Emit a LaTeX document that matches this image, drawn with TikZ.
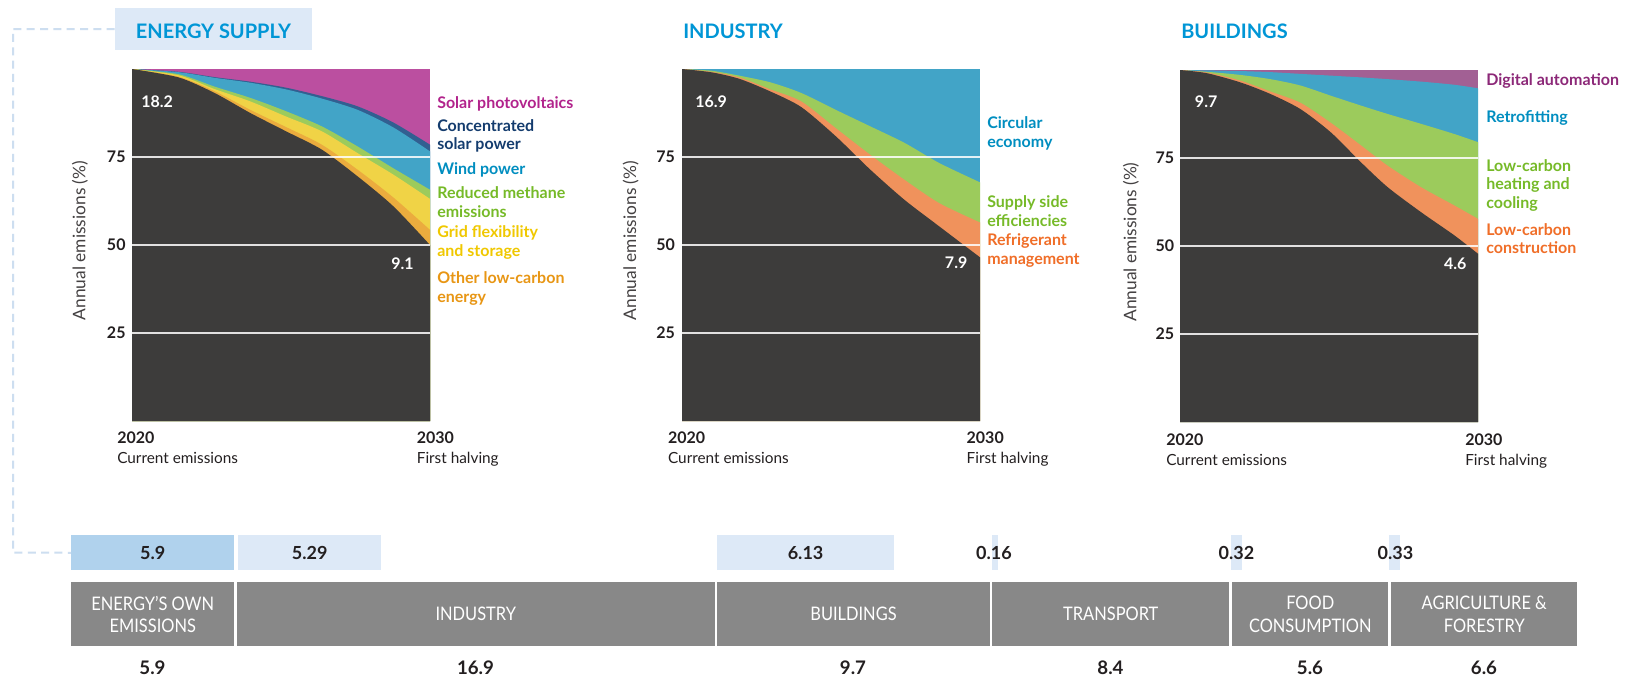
\documentclass[tikz,border=0pt]{standalone}
\usepackage{fontspec}
\setmainfont{Lato}
\newfontfamily\condf[FakeStretch=0.88]{Lato}
\usetikzlibrary{calc}
\definecolor{titleblue}{RGB}{0,150,214}
\definecolor{boxblue}{RGB}{221,233,247}
\definecolor{midblue}{RGB}{176,210,237}
\definecolor{darkfill}{RGB}{61,60,59}
\definecolor{barcol}{RGB}{136,136,136}
\definecolor{solarc}{RGB}{187,79,160}
\definecolor{solart}{RGB}{178,35,140}
\definecolor{cspc}{RGB}{50,95,145}
\definecolor{cspt}{RGB}{20,60,110}
\definecolor{windc}{RGB}{66,164,199}
\definecolor{windt}{RGB}{0,142,192}
\definecolor{greenc}{RGB}{156,203,92}
\definecolor{greent}{RGB}{118,186,40}
\definecolor{yellowc}{RGB}{240,211,70}
\definecolor{yellowt}{RGB}{240,200,0}
\definecolor{orangec}{RGB}{235,172,62}
\definecolor{oranget}{RGB}{232,150,20}
\definecolor{salmonc}{RGB}{240,146,92}
\definecolor{salmont}{RGB}{240,110,40}
\definecolor{purplec}{RGB}{162,96,148}
\definecolor{purplet}{RGB}{140,40,120}
\definecolor{txt}{RGB}{35,31,32}
\definecolor{dashc}{RGB}{205,222,240}
\newcommand{\band}[2]{\fill[#1] (0,0) -- plot[smooth, tension=0.45] coordinates {#2} -- (1,0) -- cycle;}
\begin{document}
\begin{tikzpicture}[x=0.75pt, y=-0.75pt,
  lbl/.style={anchor=base west, inner sep=0pt, font=\bfseries\fontsize{12}{14}\selectfont},
  tick/.style={anchor=east, inner sep=0pt, text=txt, font=\bfseries\fontsize{12}{14}\selectfont},
  val/.style={anchor=west, inner sep=0pt, text=white, font=\bfseries\fontsize{12}{14}\selectfont},
  yr/.style={anchor=base west, inner sep=0pt, text=txt, font=\bfseries\fontsize{12}{14}\selectfont},
  yrsub/.style={anchor=base west, inner sep=0pt, text=txt, font=\fontsize{11.5}{13}\selectfont},
  ylab/.style={rotate=90, inner sep=0pt, text=txt!85, font=\fontsize{13}{15}\selectfont},
  ttl/.style={anchor=base west, inner sep=0pt, text=titleblue, font=\bfseries\fontsize{15}{18}\selectfont},
  grid line/.style={white, line width=1.1pt, opacity=.85},
  topbox/.style={anchor=north west, inner sep=0pt, minimum height=35*0.75pt, text=txt, font=\bfseries\fontsize{13.5}{15}\selectfont},
  thinbox/.style={anchor=north west, inner sep=0pt, minimum height=35*0.75pt, fill=boxblue},
  barbox/.style={anchor=north west, inner sep=0pt, fill=barcol, minimum height=64*0.75pt, text=white, align=center, font=\condf\fontsize{14}{17}\selectfont},
  num/.style={inner sep=0pt, text=txt, font=\bfseries\fontsize{13.5}{15}\selectfont},
  bnum/.style={inner sep=0pt, text=txt, font=\bfseries\fontsize{14}{16}\selectfont},
  conn/.style={dashc, line width=1.5pt, dash pattern=on 6pt off 4pt}
]
\useasboundingbox (0,0) rectangle (1625,679);
\fill[white] (0,0) rectangle (1625,679);

% ---------- titles ----------
\node[fill=boxblue, minimum width=197*0.75pt, minimum height=42*0.75pt, inner sep=0pt] (es) at (213.5,29) {};
\node[ttl, anchor=base] (est) at (213.5,38) {ENERGY SUPPLY};
\node[ttl] (indt) at (683,38) {INDUSTRY};
\node[ttl] (bldt) at (1181,38) {BUILDINGS};

% ---------- chart 1 : energy supply ----------
\begin{scope}[xshift={132*0.75pt}, yshift={-421*0.75pt}, x=223.5pt, y=2.64pt]
  \clip (0,0) rectangle (1,100);
  \fill[solarc] (0,0) rectangle (1,100);
  \band{cspc}{(0,100) (.157,99.2) (.277,97.7) (.397,96.4) (.517,94.7) (.637,92.3) (.757,89.4) (.877,84.8) (1,78.5)}
  \band{windc}{(0,100) (.157,99.1) (.277,97.5) (.397,96.1) (.517,94.2) (.637,91.6) (.757,88.4) (.877,83.4) (1,76.6)}
  \band{greenc}{(0,100) (.157,98.5) (.277,95) (.397,91.8) (.517,88) (.637,83.7) (.757,78) (.877,71.8) (1,65.7)}
  \band{yellowc}{(0,100) (.157,98.2) (.277,94.3) (.397,90.8) (.517,86.5) (.637,82.3) (.757,76.1) (.877,70) (1,63.1)}
  \band{orangec}{(0,100) (.157,97.8) (.277,93.7) (.397,88.4) (.517,83.5) (.637,78.5) (.757,71.4) (.877,63.5) (1,54.3)}
  \band{darkfill}{(0,100) (.157,97.6) (.277,93.2) (.397,87.5) (.517,82.3) (.637,77.1) (.757,69.5) (.877,61) (1,50)}
  \foreach \g in {25,50,75} \draw[grid line] (0,\g) -- (1,\g);
\end{scope}
\node[tick] (a75) at (125.8,157) {75};
\node[tick] (a50) at (125.8,245) {50};
\node[tick] (a25) at (125.8,333) {25};
\node[ylab] (ay) at (80,240.5) {Annual emissions (\%)};
\node[val] (av1) at (141,102) {18.2};
\node[val] (av2) at (391,264) {9.1};
\node[yr] (ay1) at (117,443.5) {2020};
\node[yrsub] (ay2) at (117,463) {Current emissions};
\node[yr] (ay3) at (416.6,443.5) {2030};
\node[yrsub] (ay4) at (416.6,463) {First halving};
\node[lbl, text=solart] (l1a) at (437,108) {Solar photovoltaics};
\node[lbl, text=cspt] (l1b) at (437,131) {Concentrated};
\node[lbl, text=cspt] (l1c) at (437,149.5) {solar power};
\node[lbl, text=windt] (l1d) at (437,174) {Wind power};
\node[lbl, text=greent] (l1e) at (437,198) {Reduced methane};
\node[lbl, text=greent] (l1f) at (437,217) {emissions};
\node[lbl, text=yellowt] (l1g) at (437,237) {Grid flexibility};
\node[lbl, text=yellowt] (l1h) at (437,256.5) {and storage};
\node[lbl, text=oranget] (l1i) at (437,283) {Other low-carbon};
\node[lbl, text=oranget] (l1j) at (437,302.5) {energy};

% ---------- chart 2 : industry ----------
\begin{scope}[xshift={682*0.75pt}, yshift={-421*0.75pt}, x=223.5pt, y=2.64pt]
  \clip (0,0) rectangle (1,100);
  \fill[windc] (0,0) rectangle (1,100);
  \band{greenc}{(0,100) (.1,99.5) (.193,98.1) (.297,96.2) (.4,93.2) (.516,88.4) (.632,83.7) (.747,79) (.863,73.3) (1,67.8)}
  \band{salmonc}{(0,100) (.1,99.2) (.193,97.6) (.297,94.2) (.4,90.8) (.516,83.2) (.632,75.6) (.747,68.5) (.863,61.9) (1,56.4)}
  \band{darkfill}{(0,100) (.1,99.05) (.193,97.2) (.297,93.6) (.4,89.2) (.516,80.9) (.632,71.4) (.747,62.8) (.863,55.3) (1,46.5)}
  \foreach \g in {25,50,75} \draw[grid line] (0,\g) -- (1,\g);
\end{scope}
\node[tick] (b75) at (675.2,157) {75};
\node[tick] (b50) at (675.2,245) {50};
\node[tick] (b25) at (675.2,333) {25};
\node[ylab] (by) at (630.6,240.5) {Annual emissions (\%)};
\node[val] (bv1) at (695,102) {16.9};
\node[val] (bv2) at (944.7,263) {7.9};
\node[yr] (by1) at (667.8,443.5) {2020};
\node[yrsub] (by2) at (667.8,463) {Current emissions};
\node[yr] (by3) at (966.4,443.5) {2030};
\node[yrsub] (by4) at (966.4,463) {First halving};
\node[lbl, text=windt] (l2a) at (987,128) {Circular};
\node[lbl, text=windt] (l2b) at (987,147) {economy};
\node[lbl, text=greent] (l2c) at (987,207) {Supply side};
\node[lbl, text=greent] (l2d) at (987,226) {efficiencies};
\node[lbl, text=salmont] (l2e) at (987,245) {Refrigerant};
\node[lbl, text=salmont] (l2f) at (987,264) {management};

% ---------- chart 3 : buildings ----------
\begin{scope}[xshift={1180*0.75pt}, yshift={-422*0.75pt}, x=223.5pt, y=2.64pt]
  \clip (0,0) rectangle (1,100);
  \fill[purplec] (0,0) rectangle (1,100);
  \band{windc}{(0,100) (.09,99.9) (.202,99.7) (.303,99.4) (.404,98.9) (.506,98.4) (.607,97.9) (.697,97.4) (.809,96.7) (.921,95.8) (1,94.8)}
  \band{greenc}{(0,100) (.09,99.5) (.202,98.6) (.303,97.4) (.404,95.6) (.506,92.7) (.607,89.9) (.697,87.5) (.809,84.7) (.921,81.8) (1,79.5)}
  \band{salmonc}{(0,100) (.09,99.3) (.202,97) (.303,93.9) (.404,90.7) (.506,85) (.607,78.6) (.697,72.8) (.809,66.7) (.921,61.5) (1,57.7)}
  \band{darkfill}{(0,100) (.09,99.1) (.202,96.5) (.303,93.2) (.404,88.9) (.506,82.3) (.607,73.8) (.697,66.7) (.809,59.6) (.921,53) (1,47.8)}
  \foreach \g in {25,50,75} \draw[grid line] (0,\g) -- (1,\g);
\end{scope}
\node[tick] (c75) at (1174.4,158) {75};
\node[tick] (c50) at (1174.4,246) {50};
\node[tick] (c25) at (1174.4,334) {25};
\node[ylab] (cy) at (1130.8,242) {Annual emissions (\%)};
\node[val] (cv1) at (1194.7,102) {9.7};
\node[val] (cv2) at (1443.8,264) {4.6};
\node[yr] (cy1) at (1166,445.5) {2020};
\node[yrsub] (cy2) at (1166,465) {Current emissions};
\node[yr] (cy3) at (1465,445.5) {2030};
\node[yrsub] (cy4) at (1465,465) {First halving};
\node[lbl, text=purplet] (l3a) at (1486,85) {Digital automation};
\node[lbl, text=windt] (l3b) at (1486,122) {Retrofitting};
\node[lbl, text=greent] (l3c) at (1486,171) {Low-carbon};
\node[lbl, text=greent] (l3d) at (1486,189.5) {heating and};
\node[lbl, text=greent] (l3e) at (1486,208) {cooling};
\node[lbl, text=salmont] (l3f) at (1486,235) {Low-carbon};
\node[lbl, text=salmont] (l3g) at (1486,253.5) {construction};

% ---------- bottom: reduction boxes ----------
\node[topbox, fill=midblue, minimum width=163*0.75pt] (b59) at (71,535) {5.9};
\node[topbox, fill=boxblue, minimum width=143*0.75pt] (b529) at (238,535) {5.29};
\node[topbox, fill=boxblue, minimum width=176.6*0.75pt] (b613) at (717,535) {6.13};
\node[thinbox, minimum width=6*0.75pt] (b016) at (992,535) {};
\node[num] (t016) at (994,552.5) {0.16};
\node[thinbox, minimum width=11*0.75pt] (b032) at (1231,535) {};
\node[num] (t032) at (1236.5,552.5) {0.32};
\node[thinbox, minimum width=10.6*0.75pt] (b033) at (1389,535) {};
\node[num] (t033) at (1395.5,552.5) {0.33};

% dashed connector
\coordinate (dl) at (13,552.5);
\draw[conn] (es.west) -| (dl) -- (b59.west);

% ---------- bottom: sector bars ----------
\node[barbox, minimum width=163*0.75pt] (g1) at (71,582) {ENERGY’S OWN\\EMISSIONS};
\node[barbox, minimum width=478*0.75pt] (g2) at (236.5,582) {INDUSTRY};
\node[barbox, minimum width=272.5*0.75pt] (g3) at (717,582) {BUILDINGS};
\node[barbox, minimum width=237*0.75pt] (g4) at (992,582) {TRANSPORT};
\node[barbox, minimum width=156*0.75pt] (g5) at (1232,582) {FOOD\\CONSUMPTION};
\node[barbox, minimum width=186*0.75pt] (g6) at (1391,582) {AGRICULTURE \&\\FORESTRY};

\node[bnum] (n1) at (152.5,668) {5.9};
\node[bnum] (n2) at (475.5,668) {16.9};
\node[bnum] (n3) at (853,668) {9.7};
\node[bnum] (n4) at (1110.5,668) {8.4};
\node[bnum] (n5) at (1310,668) {5.6};
\node[bnum] (n6) at (1484,668) {6.6};
\end{tikzpicture}
\end{document}
